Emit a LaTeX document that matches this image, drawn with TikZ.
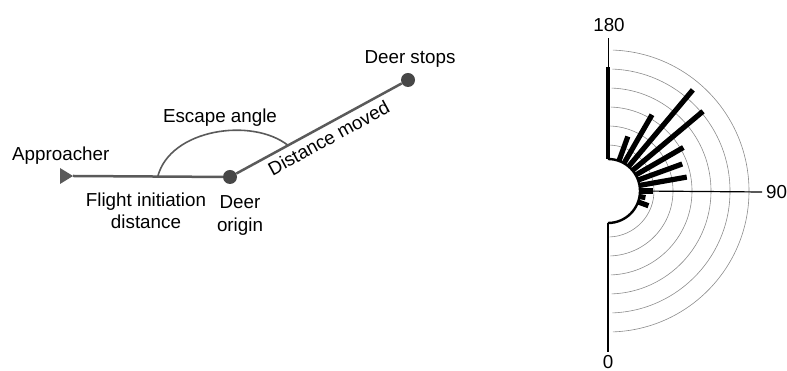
\documentclass[tikz,border=0pt]{standalone}
\usepackage{fontspec}
\setmainfont{Liberation Sans}
\usetikzlibrary{positioning}

\definecolor{pathgray}{HTML}{5A5A5A}
\definecolor{dotgray}{HTML}{474747}
\definecolor{ringgray}{HTML}{8C8C8C}

\begin{document}
\begin{tikzpicture}[%
  x=1pt, y=1pt,
  every node/.style={font=\fontsize{18.8}{22.5}\selectfont, inner sep=0pt},
  track/.style={draw=pathgray, line width=2.5pt},
  spot/.style={circle, fill=dotgray, minimum size=14pt, inner sep=0pt},
  ring/.style={draw=ringgray, line width=0.6pt},
  bar/.style={line width=5.2pt},
  ]
  \useasboundingbox (0,0) rectangle (787,371);
  % escape path
  \coordinate (appr) at (73,195);
  \node[spot] (origin) at (230,194) {};
  \node[spot] (stops) at (408,291) {};
  \fill[pathgray] (appr) -- ++(-13,8) -- ++(0,-16) -- cycle;
  \draw[track] (appr) -- (origin);
  \draw[track] (origin) -- node[sloped, below, inner sep=5pt, pos=0.52] (moved) {Distance moved} (stops);
  \path (appr) -- coordinate[pos=0.54] (arcstart) (origin.center);
  \path (origin.center) -- coordinate[pos=0.326] (arcend) (stops.center);
  \draw[pathgray, line width=1.6pt] (arcstart) .. controls (170,242) and (252,254) .. (arcend);
  \node[anchor=base west] (apprlabel) at (12,210) {Approacher};
  \node[align=center] (fidlabel) at (146,160) {Flight initiation\\distance};
  \node[align=center, below=11.5pt of origin, xshift=10pt] (originlabel) {Deer\\origin};
  \node[anchor=base] (anglelabel) at (220,248) {Escape angle};
  \node[above=5pt of stops, xshift=2pt] (stopslabel) {Deer stops};
  % rose diagram
  \begin{scope}[shift={(608,180)}]
    \node[coordinate] (pole) at (0,0) {};
    \draw[ring] (-88:46) arc (-88:88:46);
    \draw[ring] (-88:65) arc (-88:88:65);
    \draw[ring] (-88:84) arc (-88:88:84);
    \draw[ring] (-88:103) arc (-88:88:103);
    \draw[ring] (-88:122) arc (-88:88:122);
    \draw[ring] (-88:141) arc (-88:88:141);
    \node (deg180) at (1,166) {180};
    \node (deg0) at (0,-171) {0};
    \node[anchor=west] (deg90) at (158,-1) {90};
    \draw[line width=1.6pt] (-90:32) -- (deg0.north |- 0,-161);
    \draw[line width=1pt] (90:32) -- (0,153);
    \draw[line width=1.2pt] (0:32) -- (deg90.west -| 154,0);
    \draw[line width=2.4pt] (-90:32) arc (-90:90:32);
    \draw[line width=4.4pt] (90:32) -- (90:124);
    \draw[bar] (70:32) -- (70:58);
    \draw[bar] (60:32) -- (60:88);
    \draw[bar] (50:32) -- (50:132);
    \draw[bar] (40:32) -- (40:124);
    \draw[bar] (30:32) -- (30:87);
    \draw[bar] (20:32) -- (20:79);
    \draw[bar] (10:32) -- (10:80);
    \draw[bar] (0:32) -- (0:45);
    \draw[bar] (-10:32) -- (-10:38);
    \draw[bar] (-20:32) -- (-20:43);
  \end{scope}
\end{tikzpicture}
\end{document}
